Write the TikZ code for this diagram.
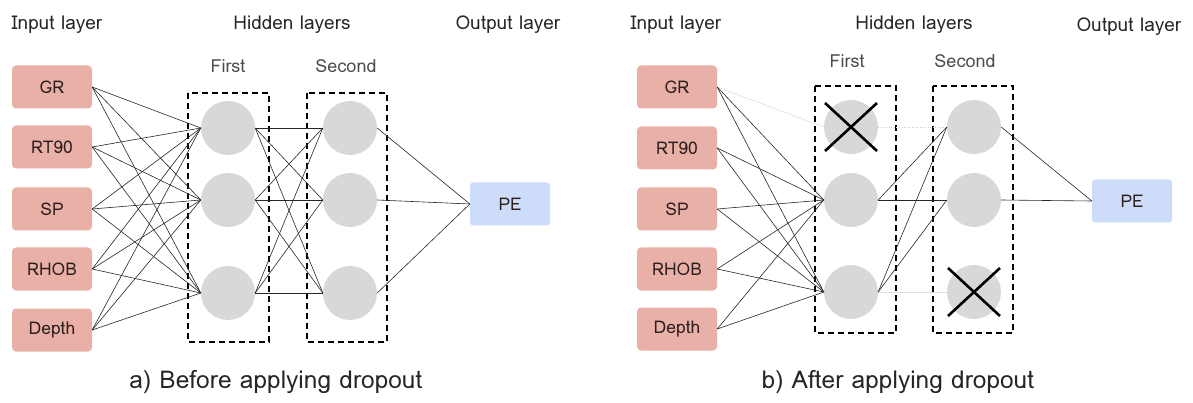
\documentclass[tikz,border=0pt]{standalone}
\usepackage{fontspec}
\setmainfont{Loma}
\definecolor{pinkc}{RGB}{232,176,166}
\definecolor{bluec}{RGB}{205,220,248}
\definecolor{neuronc}{RGB}{216,216,216}
\definecolor{txtc}{RGB}{45,30,30}
\tikzset{
 inbox/.style={rectangle, rounded corners=4pt, fill=pinkc, minimum width=80pt, minimum height=43pt, inner sep=0pt, font=\fontsize{17.5}{20}\selectfont, text=txtc},
 outbox/.style={rectangle, rounded corners=3pt, fill=bluec, minimum width=80pt, minimum height=43pt, inner sep=0pt, font=\fontsize{17.5}{20}\selectfont, text=txtc},
 neuron/.style={circle, fill=neuronc, minimum size=54pt, inner sep=0pt},
 conn/.style={line width=0.6pt, draw=black!85},
 faint/.style={line width=0.6pt, draw=black!12},
 faintdot/.style={line width=0.6pt, draw=black!20, dotted},
 layerbox/.style={draw=black, line width=1.6pt, dash pattern=on 6pt off 4pt},
 head/.style={font=\fontsize{19}{22}\selectfont, text=black!85},
 sub/.style={font=\fontsize{18}{21}\selectfont, text=black!70},
 capt/.style={font=\fontsize{24.5}{28}\selectfont, text=black!85},
 xmark/.style={line width=2.6pt, draw=black}
}
\begin{document}
\begin{tikzpicture}[x=1pt,y=-1pt]
\useasboundingbox (0,0) rectangle (1193,403);
% ---------------- panel a ----------------
\node[head] (a-tin) at (57,25) {Input layer};
\node[head] (a-thid) at (292,25) {Hidden layers};
\node[head] (a-tout) at (508,25) {Output layer};
\node[sub] (a-tf) at (228,66) {First};
\node[sub] (a-ts) at (346,66) {Second};
\node[capt] (a-cap) at (276,382) {a) Before applying dropout};
\draw[layerbox] (188,93) rectangle (269,342);
\draw[layerbox] (307,93) rectangle (387,342);
\foreach \n/\y/\t in {1/87/GR,2/147/RT90,3/209/SP,4/269/RHOB,5/330/Depth}
  \node[inbox] (a-i\n) at (52,\y) {\t};
\foreach \n/\y in {1/128,2/200,3/293}{
  \node[neuron] (a-h\n) at (228,\y) {};
  \node[neuron] (a-g\n) at (350,\y) {};
}
\node[outbox] (a-o) at (510,204) {PE};
\foreach \i in {1,...,5}
  \foreach \j in {1,2,3}
    \draw[conn] (a-i\i.east) -- (a-h\j.west);
\foreach \i in {1,2,3}{
  \foreach \j in {1,2,3}
    \draw[conn] (a-h\i.east) -- (a-g\j.west);
  \draw[conn] (a-g\i.east) -- (a-o.west);
}
% ---------------- panel b ----------------
\node[head] (b-tin) at (676,25) {Input layer};
\node[head] (b-thid) at (914,25) {Hidden layers};
\node[head] (b-tout) at (1129,27) {Output layer};
\node[sub] (b-tf) at (847,61) {First};
\node[sub] (b-ts) at (965,61) {Second};
\node[capt] (b-cap) at (898,382) {b) After applying dropout};
\draw[layerbox] (815,86) rectangle (896,333);
\draw[layerbox] (933,86) rectangle (1013,333);
\foreach \n/\y/\t in {1/87/GR,2/148/RT90,3/209/SP,4/269/RHOB,5/329/Depth}
  \node[inbox] (b-i\n) at (677,\y) {\t};
\foreach \n/\y in {1/127,2/200,3/292}{
  \node[neuron] (b-h\n) at (851,\y) {};
  \node[neuron] (b-g\n) at (974,\y) {};
}
\node[outbox] (b-o) at (1132,201) {PE};
\draw[faint] (b-i1.east) -- (b-h1.west);
\draw[faintdot] (b-h1.east) -- (b-g1.west);
\draw[faint] (b-h3.east) -- (b-g3.west);
\foreach \i in {1,...,5}
  \foreach \j in {2,3}
    \draw[conn] (b-i\i.east) -- (b-h\j.west);
\foreach \i in {2,3}
  \foreach \j in {1,2}
    \draw[conn] (b-h\i.east) -- (b-g\j.west);
\foreach \i in {1,2}
  \draw[conn] (b-g\i.east) -- (b-o.west);
\draw[xmark] (b-h1) ++(-26,-24) -- ++(52,48);
\draw[xmark] (b-h1) ++(26,-24) -- ++(-52,48);
\draw[xmark] (b-g3) ++(-26,-24) -- ++(52,48);
\draw[xmark] (b-g3) ++(26,-24) -- ++(-52,48);
\end{tikzpicture}
\end{document}
